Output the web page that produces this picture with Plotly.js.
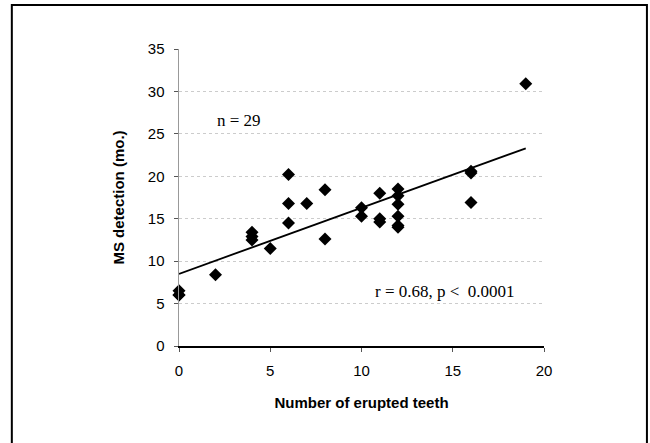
<!DOCTYPE html>
<html>
<head>
<meta charset="utf-8">
<script src="https://cdn.plot.ly/plotly-3.0.1.min.js"></script>
<style>html,body{margin:0;padding:0;background:#fff}#chart{width:650px;height:443px}</style>
</head>
<body>
<div id="chart"></div>
<script>
// Number of erupted teeth
var teeth = [0, 0, 0, 2, 4, 4, 4, 5, 6, 6, 6, 7, 8, 8, 10, 10, 11, 11, 11, 12, 12, 12, 12, 12, 12, 16, 16, 16, 19];
// MS detection (months)
var msDetection = [6.5, 6.0, 6.0, 8.4, 13.4, 12.9, 12.5, 11.5, 20.2, 16.8, 14.5, 16.8, 18.4, 12.6, 16.3, 15.3, 18.0, 15.0, 14.6, 18.5, 17.7, 16.7, 15.3, 14.2, 14.0, 20.6, 20.4, 16.9, 30.9];
// Regression line endpoints
var fitX = [0, 19];
var fitY = [8.5, 23.3];
var xTicks = [0, 5, 10, 15, 20];
var yTicks = [0, 5, 10, 15, 20, 25, 30, 35];

var traces = [
  {x: teeth, y: msDetection, mode: 'markers', type: 'scatter',
   marker: {symbol: 'diamond', size: 10, color: '#000'}, cliponaxis: false, hoverinfo: 'x+y'},
  {x: fitX, y: fitY, mode: 'lines', type: 'scatter',
   line: {color: '#000', width: 1.8}, cliponaxis: false}
];

var layout = {
  width: 650, height: 443,
  margin: {l: 179, r: 106, t: 49, b: 97},
  paper_bgcolor: '#fff', plot_bgcolor: '#fff',
  showlegend: false,
  font: {family: 'Liberation Sans, Arial, sans-serif', color: '#000', size: 15},
  xaxis: {
    range: [0, 20], tickvals: xTicks, ticktext: xTicks.map(String),
    showgrid: false, zeroline: false,
    showline: true, linecolor: '#000', linewidth: 1.5,
    ticks: 'outside', ticklen: 4, tickcolor: '#555', tickwidth: 1,
    ticklabelstandoff: 6,
    tickfont: {size: 15},
    title: {text: 'Number of erupted teeth', font: {size: 15, family: 'Liberation Sans, Arial, sans-serif', weight: 'bold'}, standoff: 20}
  },
  yaxis: {
    range: [0, 35], tickvals: yTicks, ticktext: yTicks.map(String),
    showgrid: true, gridcolor: '#cccccc', gridwidth: 1, griddash: 'dot',
    zeroline: false,
    showline: true, linecolor: '#999', linewidth: 1.5,
    ticks: 'outside', ticklen: 4, tickcolor: '#555', tickwidth: 1,
    ticklabelstandoff: 6,
    tickfont: {size: 15},
    title: {text: 'MS detection (mo.)', font: {size: 15, family: 'Liberation Sans, Arial, sans-serif', weight: 'bold'}, standoff: 19}
  },
  annotations: [
    {x: 3.3, y: 26.6, xref: 'x', yref: 'y', text: 'n = 29', showarrow: false,
     font: {family: 'Liberation Serif, Times New Roman, serif', size: 17, color: '#000'}},
    {x: 14.6, y: 6.4, xref: 'x', yref: 'y', text: 'r = 0.68, p &lt;  0.0001', showarrow: false,
     font: {family: 'Liberation Serif, Times New Roman, serif', size: 17, color: '#000'}}
  ],
  shapes: [
    {type: 'path', xref: 'paper', yref: 'paper',
     path: 'M -0.458 -0.4 L -0.458 1.148 L 1.282 1.148 L 1.282 -0.4',
     line: {color: '#000', width: 2}}
  ]
};

Plotly.newPlot('chart', traces, layout, {staticPlot: true, displayModeBar: false});
</script>
</body>
</html>
